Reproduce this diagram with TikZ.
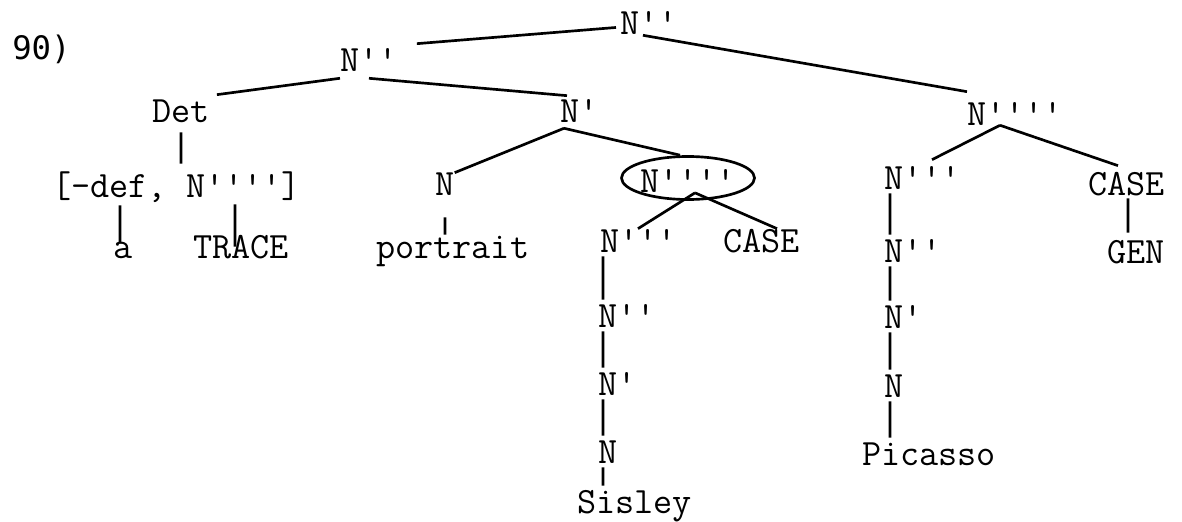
\documentclass[tikz,border=0pt]{standalone}
\usepackage{fontspec}
\usepackage{tikz}
\usetikzlibrary{shapes.geometric}
\newfontfamily\numfont{DejaVu Sans Mono}

\begin{document}
\begin{tikzpicture}[font=\ttfamily]
        % Setup the style for the labels
        \tikzset{word style/.style={anchor=base west,
                                    inner sep=0pt,
                                    text height=16.4pt,
                                    text depth=0pt,
                                    font=\fontsize{26.4}{30}\selectfont\ttfamily}}

        \useasboundingbox (0, 0) rectangle (29.55, -13.05);

        % Draw the labels
        \node[anchor=base west, inner sep=0pt, font=\fontsize{23}{28}\selectfont\numfont] at (0.30, -1.50) (num) {90)};
        \node[word style] at (15.50, -0.875)  (ntop)      {N''};
        \node[word style] at (8.50, -1.80)    (nleft)     {N''};
        \node[word style] at (3.80, -3.075)   (det)       {Det};
        \node[word style] at (14.00, -3.05)   (nbar)      {N'};
        \node[word style] at (24.175, -3.125) (nright)    {N''''};
        \node[word style] at (1.30, -4.925)   (feat)      {[-def, N'''']};
        \node[word style] at (10.875, -4.90)  (nport)     {N};
        \node[word style] at (16.00, -4.825)  (ncirc)     {N''''};
        \node[word style] at (22.10, -4.75)   (nr3)       {N'''};
        \node[word style] at (27.20, -4.875)  (caseright) {CASE};
        \node[word style] at (2.825, -6.45)   (a)         {a};
        \node[word style] at (4.825, -6.45)   (trace)     {TRACE};
        \node[word style] at (9.40, -6.45)    (portrait)  {portrait};
        \node[word style] at (15.00, -6.30)   (nm3)       {N'''};
        \node[word style] at (18.075, -6.30)  (casemid)   {CASE};
        \node[word style] at (22.10, -6.55)   (nr2)       {N''};
        \node[word style] at (27.675, -6.575) (gen)       {GEN};
        \node[word style] at (14.95, -8.175)  (nm2)       {N''};
        \node[word style] at (22.10, -8.20)   (nr1)       {N'};
        \node[word style] at (14.95, -9.875)  (nm1)       {N'};
        \node[word style] at (22.10, -9.925)  (nr0)       {N};
        \node[word style] at (14.95, -11.575) (nm0)       {N};
        \node[word style] at (21.55, -11.625) (picasso)   {Picasso};
        \node[word style] at (14.425, -12.825) (sisley)   {Sisley};

        % Ring round the moved phrase
        \node[draw, ellipse, line width=1.9pt, inner sep=0pt,
              minimum width=3.325cm, minimum height=1.075cm] at (17.20, -4.45) (ring) {};

        % Connect the labels with branches
        \draw[line width=1.9pt]
            ([xshift=-0.1cm,yshift=-0.1cm]ntop.west)      -- ([xshift=0.475cm,yshift=0.125cm]nleft.north east)
            ([xshift=-0.15cm]ntop.south)                  -- ([yshift=0.25cm]nright.north west)
            ([yshift=-0.15cm]nleft.south west)            -- ([xshift=0.175cm,yshift=0.125cm]det.north east)
            ([yshift=-0.15cm]nleft.south)                 -- ([xshift=0.175cm,yshift=0.075cm]nbar.north west)
            ([xshift=0.1cm,yshift=-0.15cm]nbar.south west) -- (nport.north east)
            ([xshift=0.1cm,yshift=-0.15cm]nbar.south west) -- ([xshift=-0.2cm]ring.north)
            ([yshift=-0.225cm]det.south)                  -- ([xshift=3.225cm,yshift=0.25cm]feat.north west)
            ([xshift=1.7cm,yshift=-0.2cm]feat.south west) -- ([xshift=0.175cm,yshift=-0.2cm]a.north west)
            ([xshift=4.575cm,yshift=-0.175cm]feat.south west) -- ([xshift=1.05cm,yshift=-0.3cm]trace.north west)
            ([xshift=0.25cm,yshift=-0.525cm]nport.south west) -- ([xshift=1.725cm]portrait.north west)
            ([xshift=0.175cm,yshift=0.2cm]ring.south)     -- ([xshift=0.95cm]nm3.north west)
            ([xshift=0.175cm,yshift=0.2cm]ring.south)     -- ([xshift=1.35cm]casemid.north west)
            ([xshift=0.825cm]nright.south west)           -- ([xshift=1.2cm,yshift=0.175cm]nr3.north west)
            ([xshift=0.825cm]nright.south west)           -- ([xshift=0.75cm,yshift=0.15cm]caseright.north west)
            ([xshift=1cm,yshift=-0.075cm]caseright.south west) -- ([xshift=0.525cm,yshift=0.175cm]gen.north west)
            % middle chain
            ([xshift=0.075cm,yshift=-0.1cm]nm3.south west) -- ([xshift=0.125cm,yshift=0.1cm]nm2.north west)
            ([xshift=0.125cm,yshift=-0.1cm]nm2.south west) -- ([xshift=0.125cm,yshift=0.1cm]nm1.north west)
            ([xshift=0.125cm,yshift=-0.1cm]nm1.south west) -- ([xshift=0.125cm,yshift=0.1cm]nm0.north west)
            ([xshift=0.125cm,yshift=-0.1cm]nm0.south west) -- ([xshift=0.65cm,yshift=0.1cm]sisley.north west)
            % right chain
            ([xshift=0.15cm,yshift=-0.075cm]nr3.south west) -- ([xshift=0.15cm,yshift=0.1cm]nr2.north west)
            ([xshift=0.15cm,yshift=-0.1cm]nr2.south west)  -- ([xshift=0.15cm,yshift=0.1cm]nr1.north west)
            ([xshift=0.15cm,yshift=-0.1cm]nr1.south west)  -- ([xshift=0.15cm,yshift=0.1cm]nr0.north west)
            ([xshift=0.15cm,yshift=-0.1cm]nr0.south west)  -- ([xshift=0.7cm,yshift=0.1cm]picasso.north west);
\end{tikzpicture}
\end{document}
